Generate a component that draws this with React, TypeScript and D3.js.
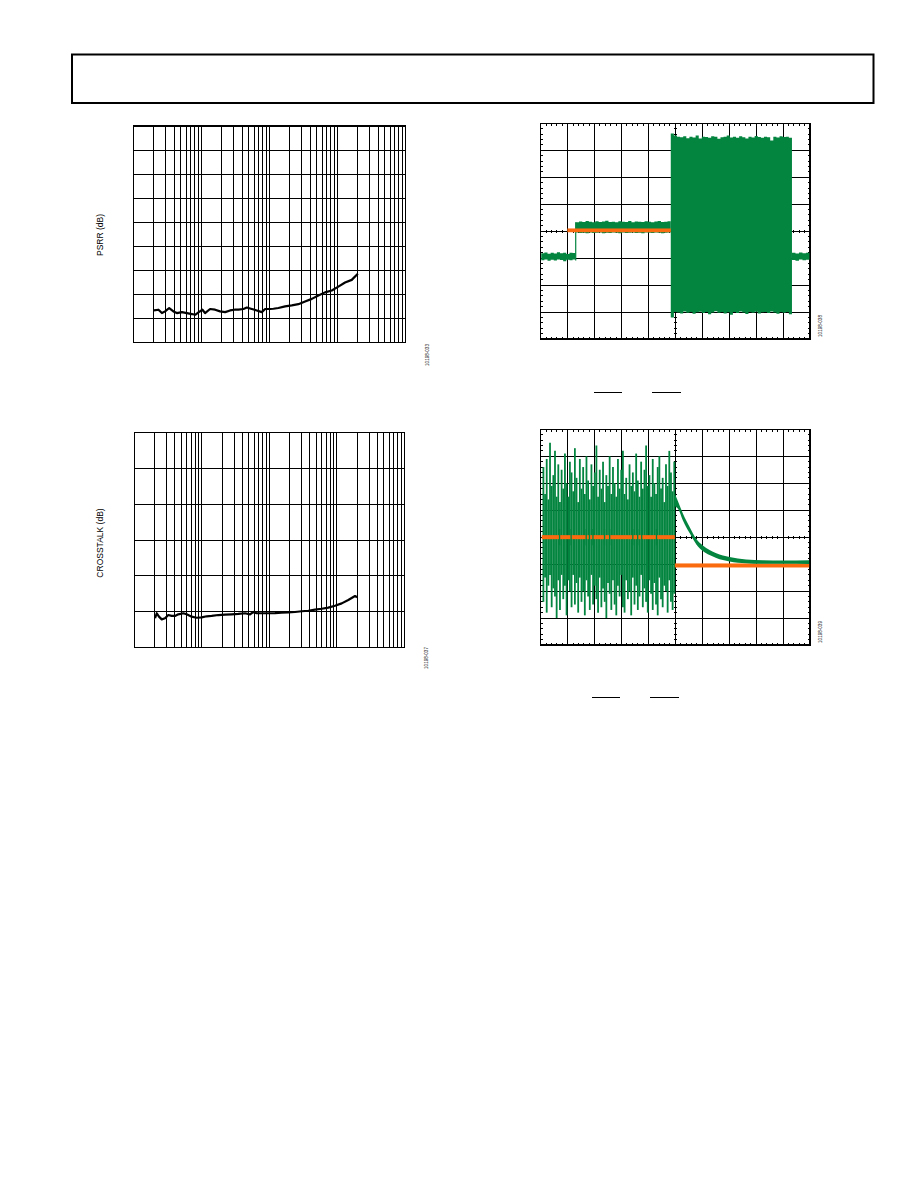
import React from 'react';
import * as d3 from 'd3';

// ---------- PSRR vs frequency (Hz, dB) ----------
const psrrFreq = [20, 23.3, 26.2, 29.2, 33.5, 38.7, 43.5, 51.5, 61, 72.3, 80.8, 90.3, 103.5, 113, 134, 159, 188, 223, 264, 306, 350, 415, 465, 551, 653, 773, 865, 1024, 1145, 1356, 1702, 2135, 2670, 3350, 4205, 5260, 6590, 8275, 10350, 12980, 16290, 20000];
const psrrDb = [-76.6, -76.3, -77.7, -77.0, -75.6, -77.0, -77.7, -77.3, -77.7, -78.1, -78.4, -77.4, -76.3, -77.7, -76.0, -76.3, -77.0, -77.3, -76.6, -76.3, -76.3, -76.0, -75.4, -76.0, -76.6, -77.3, -76.0, -76.0, -75.9, -75.6, -74.9, -74.5, -74.0, -72.9, -71.8, -70.4, -69.1, -68.3, -66.7, -65.0, -63.9, -61.4];
const psrrRange = [-90, 0];

// ---------- Crosstalk vs frequency (Hz, dB) ----------
const xtalkFreq = [20.3, 21.5, 23.2, 25.5, 28.5, 31.9, 35.8, 40.1, 44.9, 53.2, 59.7, 70.8, 84, 99.7, 118, 140, 176, 221, 277, 347, 437, 518, 580, 650, 771, 967, 1214, 1527, 1912, 2404, 3020, 3784, 4754, 5974, 7482, 9400, 11830, 14800, 18620, 20000];
const xtalkDb = [-103.6, -100.8, -102.7, -104.2, -103.6, -101.8, -102.3, -102.3, -101.4, -100.8, -101.4, -102.7, -103.3, -103.1, -102.5, -102.3, -101.8, -101.6, -101.4, -101.2, -100.8, -101.4, -100.1, -100.8, -100.8, -100.8, -100.7, -100.5, -100.3, -100.1, -99.7, -99.4, -98.8, -98.3, -97.7, -96.6, -95.3, -93.4, -91.2, -91.9];
const xtalkRange = [-120, 0];

const freqDomain = [10, 100000];

// ---------- Scope 1 (divisions) ----------
const s1PreHi = [-0.82, -0.79, -0.84, -0.8, -0.83, -0.78, -0.82, -0.8, -0.85, -0.8, -0.81, -0.79];
const s1PreLo = [-1.08, -1.05, -1.1, -1.06, -1.09, -1.05, -1.07, -1.12, -1.06, -1.08, -1.05, -1.09];
const s1PreSpan = [0.02, 1.3];
const s1MidHi = [0.33, 0.36, 0.34, 0.38, 0.35, 0.33, 0.37, 0.34, 0.36, 0.39, 0.34, 0.35, 0.33, 0.37, 0.35, 0.34, 0.38, 0.33, 0.36, 0.35, 0.34, 0.37, 0.35, 0.33, 0.36, 0.38, 0.34, 0.35, 0.37, 0.36];
const s1MidLo = [-0.05, -0.07, -0.06, -0.08, -0.05, -0.07, -0.06, -0.05, -0.08, -0.06, -0.07, -0.05, -0.06, -0.08, -0.05, -0.07, -0.06, -0.05, -0.07, -0.06, -0.08, -0.05, -0.06, -0.07, -0.05, -0.06, -0.08, -0.06, -0.05, -0.07];
const s1MidSpan = [1.3, 4.83];
const s1BlockHi = [3.62, 3.55, 3.5, 3.48, 3.52, 3.45, 3.5, 3.47, 3.55, 3.44, 3.5, 3.49, 3.46, 3.52, 3.5, 3.43, 3.48, 3.5, 3.55, 3.47, 3.5, 3.46, 3.52, 3.48, 3.44, 3.5, 3.47, 3.53, 3.49, 3.46, 3.5, 3.48, 3.36, 3.5, 3.47, 3.52, 3.49, 3.5, 3.46, 3.5];
const s1BlockLo = [-3.2, -3.0, -3.02, -3.05, -2.98, -3.03, -3.0, -3.06, -3.01, -2.99, -3.04, -3.0, -3.08, -3.02, -2.97, -3.03, -3.0, -3.05, -3.01, -3.1, -3.0, -3.04, -2.98, -3.02, -3.07, -3.0, -3.03, -2.99, -3.05, -3.01, -3.0, -3.04, -2.98, -3.02, -3.06, -3.0, -3.03, -3.0, -3.08, -3.02];
const s1BlockSpan = [4.83, 9.33];
const s1PostHi = [-0.8, -0.83, -0.79, -0.82, -0.8, -0.84];
const s1PostLo = [-1.07, -1.1, -1.05, -1.08, -1.06, -1.09];
const s1PostSpan = [9.33, 9.98];
const s1OrangeSpan = [0.99, 4.83];
const s1OrangeLevel = 0.03;

// ---------- Scope 2 (divisions) ----------
const s2BurstHi = [
  2.6, 1.6, 2.9, 1.4, 3.5, 1.9, 2.3, 3.2, 1.5, 2.7,
  1.3, 2.5, 1.8, 3.1, 2.0, 1.5, 2.8, 2.4, 1.7, 3.3,
  2.2, 1.3, 2.9, 1.8, 2.6, 1.6, 3.0, 2.1, 1.4, 2.7,
  1.9, 2.4, 3.4, 1.5, 2.5, 1.8, 2.8, 1.3, 2.3, 1.9,
  3.0, 1.6, 2.6, 2.0, 1.5, 2.9, 1.8, 2.5, 3.2, 1.6,
  2.2, 1.4, 2.7, 1.9, 2.4, 1.7, 3.1, 2.1, 1.5, 2.8,
  1.8, 2.5, 3.4, 1.9, 2.3, 1.5, 2.9, 2.0, 1.6, 2.6,
  3.0, 1.8, 2.2, 1.3, 2.7, 1.9, 3.2, 2.4, 1.7, 2.8];
const s2BurstLo = [
  -2.4, -1.5, -2.8, -1.8, -1.4, -2.6, -1.9, -2.2, -3.0, -1.6,
  -2.7, -1.4, -2.3, -1.8, -2.9, -1.6, -2.0, -2.6, -1.4, -2.5,
  -1.7, -2.8, -1.5, -2.4, -2.0, -2.9, -1.6, -2.2, -2.7, -1.4,
  -2.5, -1.8, -2.3, -2.8, -1.5, -2.6, -1.9, -2.4, -3.0, -1.7,
  -2.1, -2.7, -1.6, -2.5, -2.9, -1.8, -2.2, -1.4, -2.6, -2.8,
  -1.6, -2.3, -2.0, -2.9, -1.5, -2.5, -1.8, -2.7, -2.2, -1.4,
  -2.6, -1.9, -2.4, -2.8, -1.6, -2.1, -2.7, -1.7, -2.5, -2.9,
  -1.5, -2.3, -2.6, -1.8, -2.0, -2.8, -1.6, -2.4, -2.7, -2.1];
const s2BurstSpan = [0.1, 4.96];
const s2DecayX = [4.98, 5.1, 5.28, 5.53, 5.78, 6.02, 6.27, 6.52, 7.01, 7.63, 8.24, 9.0, 9.97];
const s2DecayHi = [1.62, 1.32, 0.88, 0.38, -0.07, -0.31, -0.48, -0.6, -0.74, -0.83, -0.86, -0.87, -0.86];
const s2DecayLo = [1.15, 1.05, 0.62, 0.15, -0.27, -0.51, -0.66, -0.77, -0.9, -0.97, -0.99, -0.99, -1.0];
const s2OrangeX0 = [0.04, 4.98];
const s2OrangeX1 = [4.98, 9.97];
const s2OrangeLevel = [0.0, -1.05];
const s2OrangeGaps = [0.7, 1.13, 1.69, 1.81, 1.94, 2.37, 2.56, 3.42, 3.6, 3.75, 4.3];

const GREEN = '#03843f';
const ORANGE = '#fa6a0f';
const FONT = '"Liberation Sans", Arial, Helvetica, sans-serif';

type Box = { l: number; r: number; t: number; b: number };

function LogChart(props: {
  box: Box; freq: number[]; db: number[]; range: number[]; divs: number;
  title: string; titleX: number; titleY: number; id: string; idX: number; idY: number;
}) {
  const { box, freq, db, range, divs } = props;
  const x = d3.scaleLog().domain(freqDomain).range([box.l, box.r]);
  const y = d3.scaleLinear().domain(range).range([box.b, box.t]);
  const vLines = x.ticks();
  const hLines = y.ticks(divs);
  const line = d3.line<number>().x((_, i) => x(freq[i])).y((d) => y(d)).curve(d3.curveLinear);
  return (
    <g>
      {vLines.map((v, i) => (
        <line key={'v' + i} x1={x(v)} x2={x(v)} y1={box.t} y2={box.b} stroke="#000" strokeWidth={1} shapeRendering="crispEdges" />
      ))}
      {hLines.map((v, i) => (
        <line key={'h' + i} x1={box.l} x2={box.r} y1={y(v)} y2={y(v)} stroke="#000" strokeWidth={1} shapeRendering="crispEdges" />
      ))}
      <rect x={box.l} y={box.t} width={box.r - box.l} height={box.b - box.t} fill="none" stroke="#000" strokeWidth={1.2} shapeRendering="crispEdges" />
      <path d={line(db) || ''} fill="none" stroke="#000" strokeWidth={2.2} strokeLinejoin="round" />
      <text transform={`translate(${props.titleX},${props.titleY}) rotate(-90)`} textAnchor="middle" fontFamily={FONT} fontSize={8.5} fill="#000">{props.title}</text>
      <text transform={`translate(${props.idX},${props.idY}) rotate(-90)`} textAnchor="middle" fontFamily={FONT} fontSize={4.6} fill="#000">{props.id}</text>
    </g>
  );
}

function ScopeGrid({ x, y }: { x: d3.ScaleLinear<number, number>; y: d3.ScaleLinear<number, number> }) {
  const [x0, x1] = x.range();
  const [yb, yt] = y.range();
  const xc = x(5);
  const yc = y(0);
  const minorX = x.ticks(50);
  const minorY = y.ticks(40);
  const tk = 2.3;
  const ct = 1.5;
  return (
    <g stroke="#000" shapeRendering="crispEdges">
      {x.ticks(10).map((v, i) => (
        <line key={'gx' + i} x1={x(v)} x2={x(v)} y1={yt} y2={yb} strokeWidth={1} />
      ))}
      {y.ticks(8).map((v, i) => (
        <line key={'gy' + i} x1={x0} x2={x1} y1={y(v)} y2={y(v)} strokeWidth={1} />
      ))}
      {minorX.map((v, i) => (
        <g key={'mx' + i}>
          <line x1={x(v)} x2={x(v)} y1={yt} y2={yt + tk} strokeWidth={1} />
          <line x1={x(v)} x2={x(v)} y1={yb} y2={yb - tk} strokeWidth={1} />
          <line x1={x(v)} x2={x(v)} y1={yc - ct} y2={yc + ct} strokeWidth={1} />
        </g>
      ))}
      {minorY.map((v, i) => (
        <g key={'my' + i}>
          <line x1={x0} x2={x0 + tk} y1={y(v)} y2={y(v)} strokeWidth={1} />
          <line x1={x1} x2={x1 - tk} y1={y(v)} y2={y(v)} strokeWidth={1} />
          <line x1={xc - ct} x2={xc + ct} y1={y(v)} y2={y(v)} strokeWidth={1} />
        </g>
      ))}
      <rect x={x0} y={yt} width={x1 - x0} height={yb - yt} fill="none" strokeWidth={1.3} />
    </g>
  );
}

function bandPath(x: d3.ScaleLinear<number, number>, y: d3.ScaleLinear<number, number>, span: number[], hi: number[], lo: number[]) {
  const idx = d3.scaleLinear().domain([0, hi.length - 1]).range(span);
  return d3.area<number>()
    .x((_, i) => x(idx(i)))
    .y0((_, i) => y(lo[i]))
    .y1((d) => y(d))
    .curve(d3.curveStepAfter)(hi) || '';
}

function Scope1() {
  const x = d3.scaleLinear().domain([0, 10]).range([540.7, 810]);
  const y = d3.scaleLinear().domain([-4, 4]).range([339, 123.3]);
  return (
    <g>
      <ScopeGrid x={x} y={y} />
      <path d={bandPath(x, y, s1PreSpan, s1PreHi, s1PreLo)} fill={GREEN} />
      <line x1={x(s1PreSpan[1])} x2={x(s1PreSpan[1])} y1={y(s1PreLo[s1PreLo.length - 1])} y2={y(s1MidHi[0])} stroke={GREEN} strokeWidth={1.2} />
      <path d={bandPath(x, y, s1MidSpan, s1MidHi, s1MidLo)} fill={GREEN} />
      <path d={bandPath(x, y, s1BlockSpan, s1BlockHi, s1BlockLo)} fill={GREEN} />
      <path d={bandPath(x, y, s1PostSpan, s1PostHi, s1PostLo)} fill={GREEN} />
      <rect x={x(s1OrangeSpan[0])} width={x(s1OrangeSpan[1]) - x(s1OrangeSpan[0])} y={y(s1OrangeLevel + 0.07)} height={y(s1OrangeLevel - 0.07) - y(s1OrangeLevel + 0.07)} fill={ORANGE} />
    </g>
  );
}

function Scope2() {
  const x = d3.scaleLinear().domain([0, 10]).range([540.7, 810]);
  const y = d3.scaleLinear().domain([-4, 4]).range([645, 429.3]);
  const idx = d3.scaleLinear().domain([0, s2BurstHi.length - 1]).range(s2BurstSpan);
  const decay = d3.area<number>()
    .x((_, i) => x(s2DecayX[i]))
    .y0((_, i) => y(s2DecayLo[i]))
    .y1((d) => y(d))
    .curve(d3.curveMonotoneX);
  return (
    <g>
      <ScopeGrid x={x} y={y} />
      {s2BurstHi.map((h, i) => (
        <line key={'b' + i} x1={x(idx(i))} x2={x(idx(i))} y1={y(h)} y2={y(s2BurstLo[i])} stroke={GREEN} strokeWidth={1.8} />
      ))}
      {s2OrangeLevel.map((v, i) => (
        <rect key={'o' + i} x={x(s2OrangeX0[i])} width={x(s2OrangeX1[i]) - x(s2OrangeX0[i])} y={y(v + 0.075)} height={y(v - 0.075) - y(v + 0.075)} fill={ORANGE} />
      ))}
      {s2OrangeGaps.map((g, i) => (
        <line key={'g' + i} x1={x(g)} x2={x(g)} y1={y(0.3)} y2={y(-0.3)} stroke={GREEN} strokeWidth={1.3} />
      ))}
      <path d={decay(s2DecayHi) || ''} fill={GREEN} />
    </g>
  );
}

export default function App() {
  return (
    <svg width={918} height={1188} style={{ position: 'absolute', left: 0, top: 0, background: '#fff' }} xmlns="http://www.w3.org/2000/svg">
      <rect x={0} y={0} width={918} height={1188} fill="#fff" />
      <rect x={72} y={54.5} width={801.5} height={48.5} fill="none" stroke="#000" strokeWidth={2} />
      <LogChart box={{ l: 133.5, r: 405.3, t: 126, b: 342.7 }} freq={psrrFreq} db={psrrDb} range={psrrRange} divs={9}
        title="PSRR (dB)" titleX={103} titleY={235} id="10198-033" idX={429} idY={355} />
      <LogChart box={{ l: 134.3, r: 404.3, t: 432.3, b: 647.7 }} freq={xtalkFreq} db={xtalkDb} range={xtalkRange} divs={6}
        title="CROSSTALK (dB)" titleX={103} titleY={543} id="10198-037" idX={428} idY={658} />
      <Scope1 />
      <Scope2 />
      <text transform="translate(822,326) rotate(-90)" textAnchor="middle" fontFamily={FONT} fontSize={4.6}>10198-038</text>
      <text transform="translate(822,632) rotate(-90)" textAnchor="middle" fontFamily={FONT} fontSize={4.6}>10198-039</text>
      <g stroke="#000" strokeWidth={1} shapeRendering="crispEdges">
        <line x1={594} x2={622} y1={392.5} y2={392.5} />
        <line x1={652} x2={681} y1={392.5} y2={392.5} />
        <line x1={592} x2={620} y1={697.5} y2={697.5} />
        <line x1={650} x2={679} y1={697.5} y2={697.5} />
      </g>
    </svg>
  );
}
